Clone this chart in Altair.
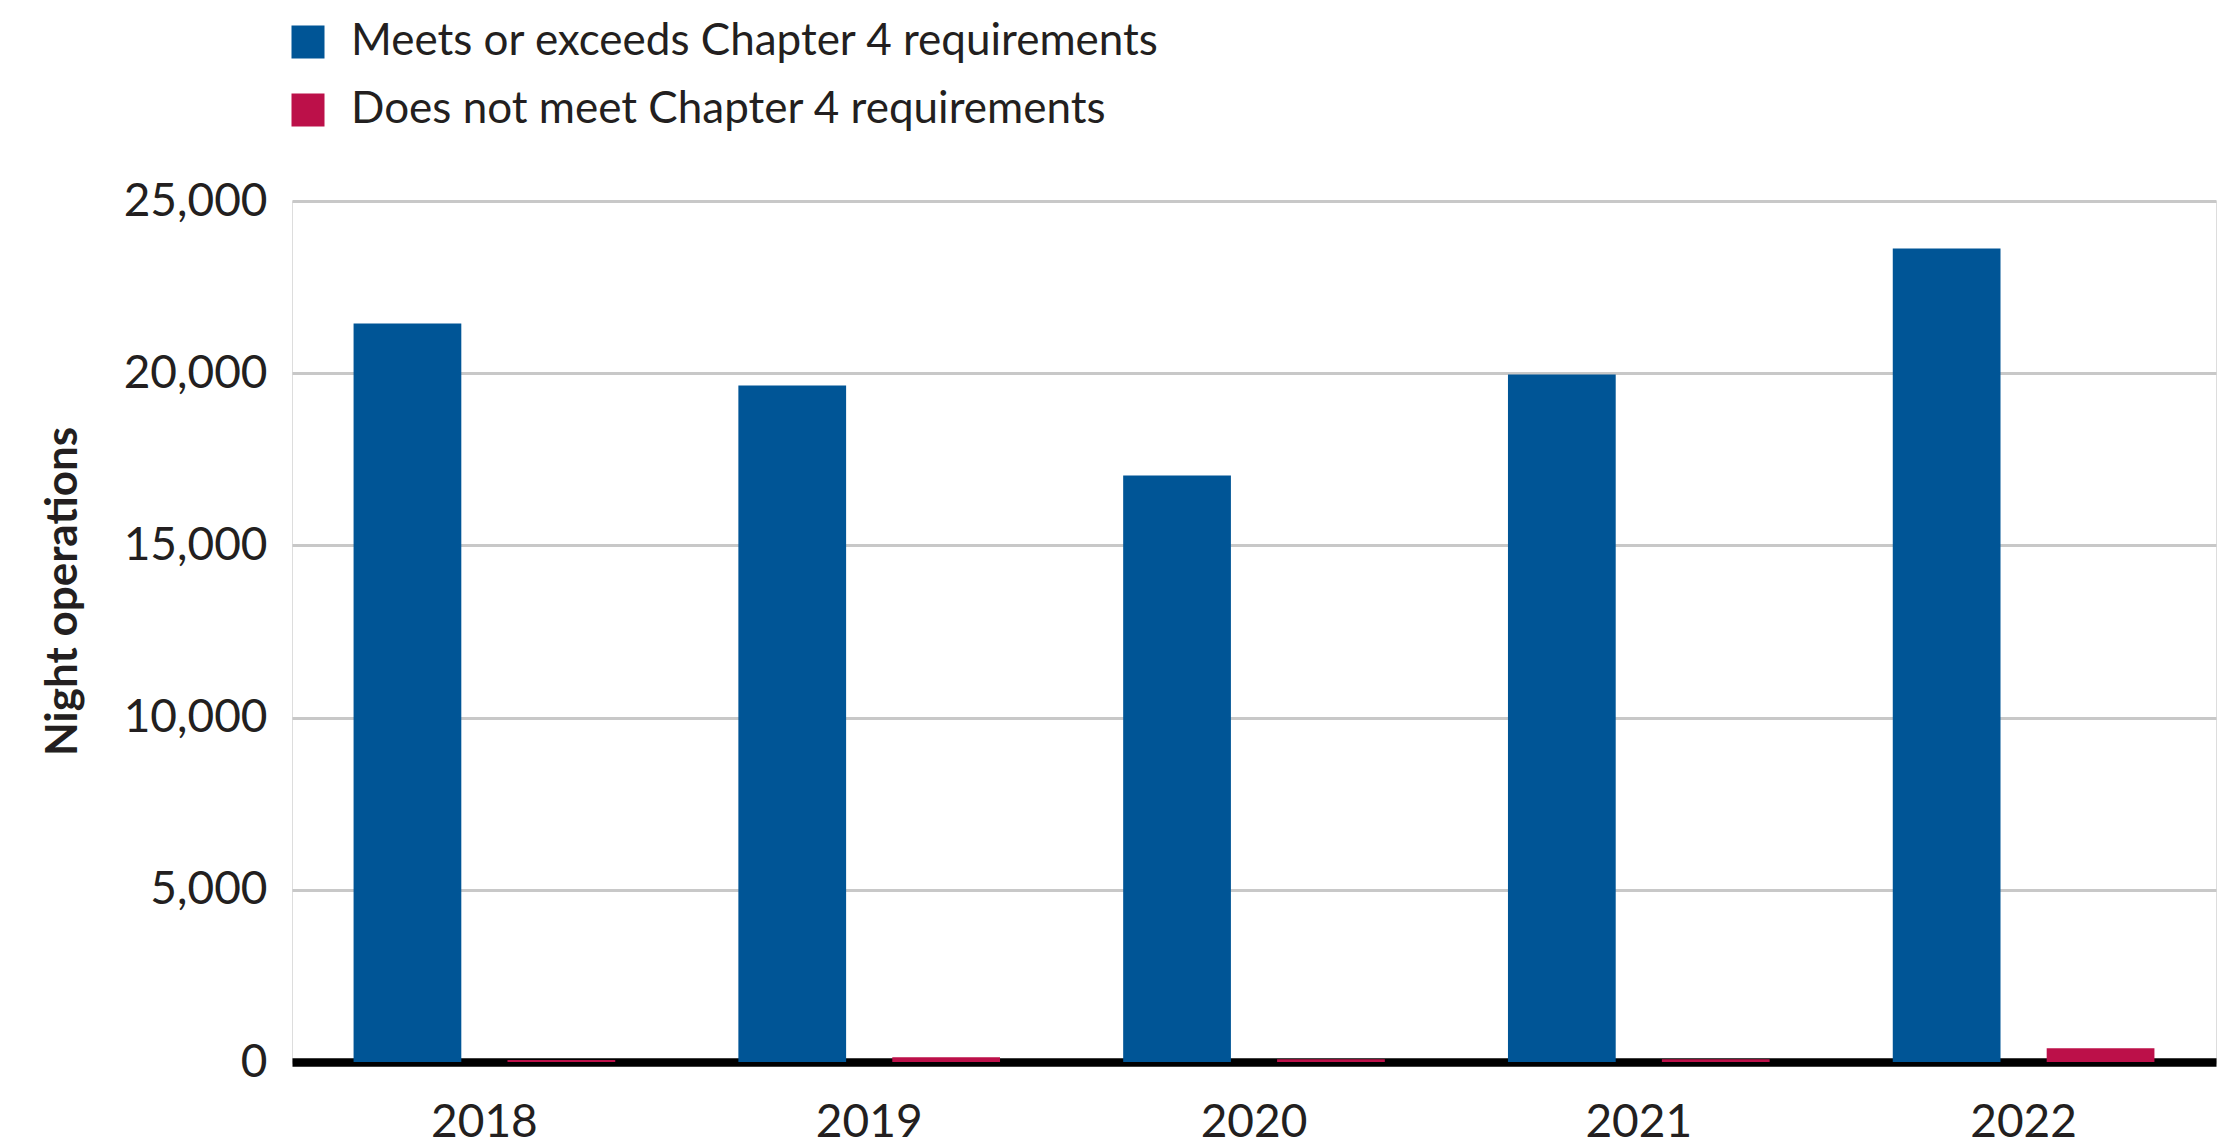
import altair as alt
import pandas as pd

years = ["2018", "2019", "2020", "2021", "2022"]
meets = [21440, 19640, 17030, 19960, 23620]
not_meets = [60, 140, 80, 80, 400]
series = ["Meets or exceeds Chapter 4 requirements", "Does not meet Chapter 4 requirements"]
colors = ["#005596", "#BC1049"]

rows = []
for i, y in enumerate(years):
    rows.append({"year": y, "series": series[0], "value": meets[i]})
    rows.append({"year": y, "series": series[1], "value": not_meets[i]})
df = pd.DataFrame(rows)

FONT = "Lato"
TXT = "#231f20"

chart = alt.Chart(df).mark_bar().encode(
    x=alt.X("year:N", sort=years, title=None,
            scale=alt.Scale(paddingInner=0.32, paddingOuter=0.16),
            axis=alt.Axis(labelAngle=0, labelFont=FONT, labelFontSize=46, labelColor=TXT,
                          ticks=False, tickSize=0, labelPadding=38,
                          domainColor="#000000", domainWidth=8.4, grid=False)),
    xOffset=alt.XOffset("series:N", sort=series,
                        scale=alt.Scale(paddingInner=0.3, paddingOuter=0)),
    y=alt.Y("value:Q", title="Night operations",
            scale=alt.Scale(domain=[0, 25000], nice=False),
            axis=alt.Axis(values=[0, 5000, 10000, 15000, 20000, 25000], format=",d",
                          labelFont=FONT, labelFontSize=46, labelColor=TXT, labelPadding=25,
                          ticks=False, tickSize=0, domain=False,
                          gridColor="#c8c8c8", gridWidth=3,
                          titleFont=FONT, titleFontSize=44, titleFontWeight="bold",
                          titleColor=TXT, titleAngle=270, titleAlign="center",
                          titleBaseline="top", titleX=-251, titleY=390)),
    color=alt.Color("series:N", sort=series,
                    scale=alt.Scale(domain=series, range=colors),
                    legend=alt.Legend(title=None, orient="none", legendX=-6, legendY=-181,
                                      direction="vertical", symbolType="square",
                                      symbolSize=1089, symbolStrokeWidth=0,
                                      labelFont=FONT, labelFontSize=44, labelColor=TXT,
                                      labelOffset=21, rowPadding=24, labelLimit=2000)),
).properties(
    width=1924, height=861,
    autosize=alt.AutoSizeParams(type="none"),
    padding={"left": 292, "top": 201, "right": 18, "bottom": 83},
).configure_view(stroke=None).configure(background="white")

chart.save("out.html", embed_options={"renderer": "svg", "actions": False})
